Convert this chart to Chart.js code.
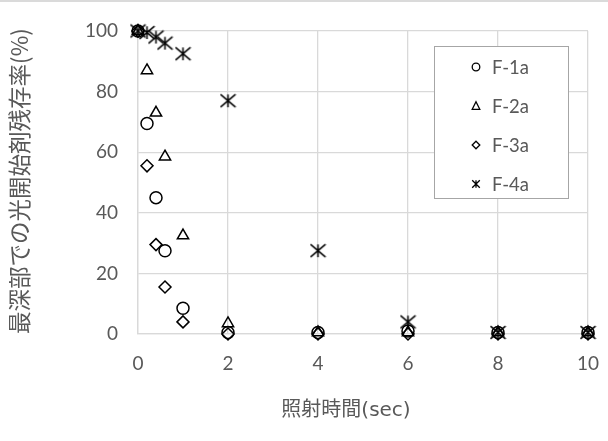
<!DOCTYPE html>
<html>
<head>
<meta charset="utf-8">
<script src="https://cdn.jsdelivr.net/npm/chart.js@4/dist/chart.umd.min.js"></script>
<style>
  html, body { margin: 0; padding: 0; background: #fff; }
  #wrap { width: 608px; height: 441px; }
</style>
</head>
<body>
<div id="wrap"><canvas id="chart" width="608" height="441"></canvas></div>
<script>
// 照射時間(sec)
const times = [0, 0.2, 0.4, 0.6, 1, 2, 4, 6, 8, 10];
// 最深部での光開始剤残存率(%)
const f1a = [100, 69.5, 45, 27.5, 8.5, 0.5, 0.5, 1, 0.5, 0.5];
const f2a = [100, 87, 73, 58.5, 32.5, 3.5, 0.5, 0.5, 0.5, 0.5];
const f3a = [100, 55.5, 29.5, 15.5, 4, 0, 0, 0, 0, 0];
const f4a = [100, 99.5, 98, 96, 92.5, 77, 27.5, 4, 0.5, 0.5];
const seriesNames = ['F-1a', 'F-2a', 'F-3a', 'F-4a'];
const xTitle = '照射時間(sec)';
const yTitle = '最深部での光開始剤残存率(%)';

const textColor = '#595959';
const gridColor = '#d9d9d9';
const FONT = "Lato, 'Noto Sans CJK JP', sans-serif";

// Excel風アスタリスク (X + 縦線)
function makeStar(size, lw) {
  const c = document.createElement('canvas');
  c.width = c.height = size;
  const g = c.getContext('2d');
  const m = size / 2, r = size / 2 - 1, h = r * 0.85;
  g.strokeStyle = '#000';
  g.lineWidth = lw;
  g.beginPath();
  g.moveTo(m, m - h); g.lineTo(m, m + h);
  g.moveTo(m - r, m - h); g.lineTo(m + r, m + h);
  g.moveTo(m + r, m - h); g.lineTo(m - r, m + h);
  g.stroke();
  return c;
}
const starBig = makeStar(17, 1.5);

const toPts = ys => times.map((t, i) => ({ x: t, y: ys[i] }));

function ds(label, ys, style, radius) {
  return {
    label: label,
    data: toPts(ys),
    pointStyle: style,
    pointRadius: radius,
    pointHoverRadius: radius,
    borderColor: '#000',
    backgroundColor: 'rgba(0,0,0,0)',
    pointBorderWidth: 1.5,
    showLine: false,
    clip: false
  };
}

// 枠内の凡例 + 軸タイトル
const boxLegend = {
  id: 'boxLegend',
  afterDraw(chart) {
    const ctx = chart.ctx;
    ctx.save();
    // 上端のグレー線
    ctx.fillStyle = '#dadada';
    ctx.fillRect(0, 0, 608, 2);

    // 軸タイトル
    ctx.fillStyle = textColor;
    ctx.textAlign = 'center';
    ctx.textBaseline = 'middle';
    ctx.font = "20px 'DejaVu Sans', 'Noto Sans CJK JP', sans-serif";
    ctx.fillText(xTitle, 346, 411);
    ctx.save();
    ctx.translate(19, 181);
    ctx.rotate(-Math.PI / 2);
    ctx.font = "22.5px 'Noto Sans CJK JP', sans-serif";
    ctx.fillText(yTitle, 0, 0);
    ctx.restore();

    const L = 434, T = 46, R = 568, B = 198;
    ctx.fillStyle = '#fff';
    ctx.fillRect(L, T, R - L, B - T);
    ctx.strokeStyle = '#a6a6a6';
    ctx.lineWidth = 1;
    ctx.strokeRect(L + 0.5, T + 0.5, R - L, B - T);

    const mx = 476, tx = 492;
    const rows = [67, 106, 145, 184];
    ctx.font = '18.5px ' + FONT;
    ctx.textBaseline = 'middle';
    ctx.textAlign = 'left';
    rows.forEach((y, i) => {
      ctx.strokeStyle = '#000';
      ctx.lineWidth = 1.3;
      ctx.beginPath();
      const r = 3.8;
      if (i === 0) {
        ctx.arc(mx, y, r, 0, Math.PI * 2);
      } else if (i === 1) {
        ctx.moveTo(mx, y - r - 0.5);
        ctx.lineTo(mx + r, y + r - 0.5);
        ctx.lineTo(mx - r, y + r - 0.5);
        ctx.closePath();
      } else if (i === 2) {
        ctx.moveTo(mx, y - r);
        ctx.lineTo(mx + r, y);
        ctx.lineTo(mx, y + r);
        ctx.lineTo(mx - r, y);
        ctx.closePath();
      } else {
        ctx.moveTo(mx, y - r); ctx.lineTo(mx, y + r);
        ctx.moveTo(mx - r, y - r); ctx.lineTo(mx + r, y + r);
        ctx.moveTo(mx + r, y - r); ctx.lineTo(mx - r, y + r);
      }
      ctx.stroke();
      ctx.fillStyle = textColor;
      ctx.fillText(seriesNames[i], tx, y + 1);
    });
    ctx.restore();
  }
};

new Chart(document.getElementById('chart').getContext('2d'), {
  type: 'scatter',
  data: {
    datasets: [
      ds(seriesNames[0], f1a, 'circle', 6),
      ds(seriesNames[1], f2a, 'triangle', 6.5),
      ds(seriesNames[2], f3a, 'rectRot', 6),
      ds(seriesNames[3], f4a, starBig, 7)
    ]
  },
  options: {
    responsive: false,
    animation: false,
    events: [],
    layout: { padding: { top: 31, right: 20, bottom: 0, left: 0 } },
    plugins: {
      legend: { display: false },
      tooltip: { enabled: false }
    },
    scales: {
      x: {
        type: 'linear',
        min: 0, max: 10,
        afterFit(scale) {
          scale.height = 107;
          scale.paddingLeft = 0;
          scale.paddingRight = 0;
        },
        ticks: { stepSize: 2, color: textColor, padding: 18, font: { family: FONT, size: 19 } },
        grid: { color: gridColor, lineWidth: 1.3, drawTicks: false },
        border: { color: gridColor, width: 1.3 }
      },
      y: {
        min: 0, max: 100,
        afterFit(scale) {
          scale.width = 138;
          scale.paddingTop = 0;
          scale.paddingBottom = 0;
        },
        ticks: { stepSize: 20, color: textColor, padding: 20, font: { family: FONT, size: 19 } },
        grid: { color: gridColor, lineWidth: 1.3, drawTicks: false },
        border: { color: gridColor, width: 1.3 }
      }
    }
  },
  plugins: [boxLegend]
});
</script>
</body>
</html>
